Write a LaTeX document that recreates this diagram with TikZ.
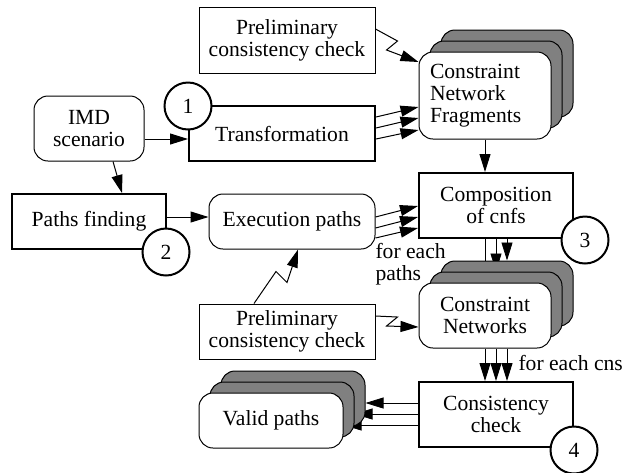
\documentclass[tikz,border=0pt]{standalone}
\usepackage{fontspec}
\setmainfont{Liberation Serif}
\usepackage{tikz}
\usetikzlibrary{arrows.meta,positioning,backgrounds}

\begin{document}
\begin{tikzpicture}[x=0.5pt, y=-0.5pt, line width=0.5pt,
      >={Triangle[length=9pt,width=5.5pt]},
      txt/.style={font=\fontsize{10.8}{11}\selectfont, align=center, inner sep=0pt},
      plain/.style={txt, draw, fill=white},
      proc/.style={txt, draw, fill=white, line width=1pt},
      rbox/.style={txt, draw, fill=white, rounded corners=7pt},
      layer/.style={draw, fill=gray, rounded corners=7pt, inner sep=0pt},
      num/.style={txt, circle, draw, fill=white, line width=1pt, minimum size=23.5pt}]
      \useasboundingbox (0,0) rectangle (624,472);

      % stacked results
      \begin{scope}[every node/.append style={minimum width=66pt}]
          \node[layer, minimum height=43.5pt] (cnfB) at (507,73.5) {};
          \node[layer, minimum height=43.5pt] (cnfM) at (496,84.5) {};
          \node[rbox, text width=55pt, align=left, inner xsep=5.5pt, minimum height=43.5pt] (cnfF) at (485,95.5) {Constraint\\Network\\Fragments};
          \node[layer, minimum height=32.5pt] (cnB) at (507,293.5) {};
          \node[layer, minimum height=32.5pt] (cnM) at (496,304.5) {};
          \node[rbox, minimum height=32.5pt] (cnF) at (485,315.5) {Constraint\\Networks};
      \end{scope}
      \begin{scope}[every node/.append style={minimum width=72pt, minimum height=27.5pt}]
          \node[layer] (vB) at (293,398.5) {};
          \node[layer] (vM) at (282,409.5) {};
          \node[rbox] (vF) at (271,420.5) {Valid paths};
      \end{scope}

      % boxes
      \node[plain, minimum width=88pt, minimum height=33pt] (pre1) at (287,40) {Preliminary\\consistency check};
      \node[rbox, minimum width=55pt, minimum height=32.5pt] (imd) at (89,128.5) {IMD\\scenario};
      \node[proc, minimum width=93pt, minimum height=27.5pt] (trans) at (282,133.5) {Transformation};
      \node[proc, minimum width=77pt, minimum height=27.5pt] (paths) at (89,221.5) {Paths finding};
      \node[rbox, minimum width=83pt, minimum height=27.5pt] (exec) at (292,221.5) {Execution paths};
      \node[proc, minimum width=77pt, minimum height=32.5pt] (comp) at (496,205.5) {Composition\\of cnfs};
      \node[plain, minimum width=88pt, minimum height=27.5pt] (pre2) at (287,331.5) {Preliminary\\consistency check};
      \node[proc, minimum width=77pt, minimum height=32.5pt] (cc) at (496,414.5) {Consistency\\check};

      \node[txt, anchor=west, align=left] (each1) at (375,264) {for each\\paths};
      \node[txt, anchor=west] (each2) at (518,363) {for each cns};

      % connectors
      \draw[->] ([yshift=-5.25pt]imd.east) -- ([yshift=-2.75pt]trans.west);
      \draw[->] ([xshift=12pt]imd.south) -- ([xshift=16.5pt]paths.north);
      \draw[->] ([yshift=2.25pt]paths.east) -- ([yshift=2.25pt]exec.west);
      \foreach \a/\b in {8.25/-5.75, 2.75/-11.25, -2.75/-17.25}
          \draw[->] ([yshift=\a pt]trans.east) -- ([yshift=\b pt]cnfF.west);
      \foreach \a/\b in {2.25/-0.25, -3.25/-5.75, -8.25/-11.25}
          \draw[->] ([yshift=\a pt]exec.east) -- ([yshift=\b pt]comp.west);
      \draw[->] ([yshift=5.5pt]pre1.east) -- ++(22,12) -- ++(-11,9) -- ([yshift=16.75pt]cnfF.west);
      \draw[->] (cnfF.south) -- (cnfF.south |- comp.north);
      \draw[->] ([xshift=-16.5pt]pre2.north) -- ++(22,-32) -- ++(11,11) -- ([xshift=3pt]exec.south);
      \draw[->] ([yshift=7.75pt]pre2.east) -- ++(22,1) -- ++(-11,9) -- ([yshift=-5.75pt]cnF.west);
      \foreach \a/\b in {0/-5.5, 5.5/0, 11/5.5}
          \draw[->] ([xshift=\a pt]cnF.south) -- ([xshift=\b pt]cc.north);
      \begin{scope}[on background layer]
          \foreach \l in {cnF, cnM, cnB}
              \draw[->] (\l.north |- comp.south) -- (\l.north);
          \foreach \s/\l in {5.75/vB, 0.25/vM, -5.25/vF}
              \draw[->] ([yshift=\s pt]cc.west) -- ([yshift=-2.25pt]\l.east);
      \end{scope}

      % step numbers
      \node[num] (n1) at (188,106) {1};
      \node[num] (n2) at (166,252) {2};
      \node[num] (n3) at (585,240) {3};
      \node[num] (n4) at (574,450) {4};
      \end{tikzpicture}
\end{document}
